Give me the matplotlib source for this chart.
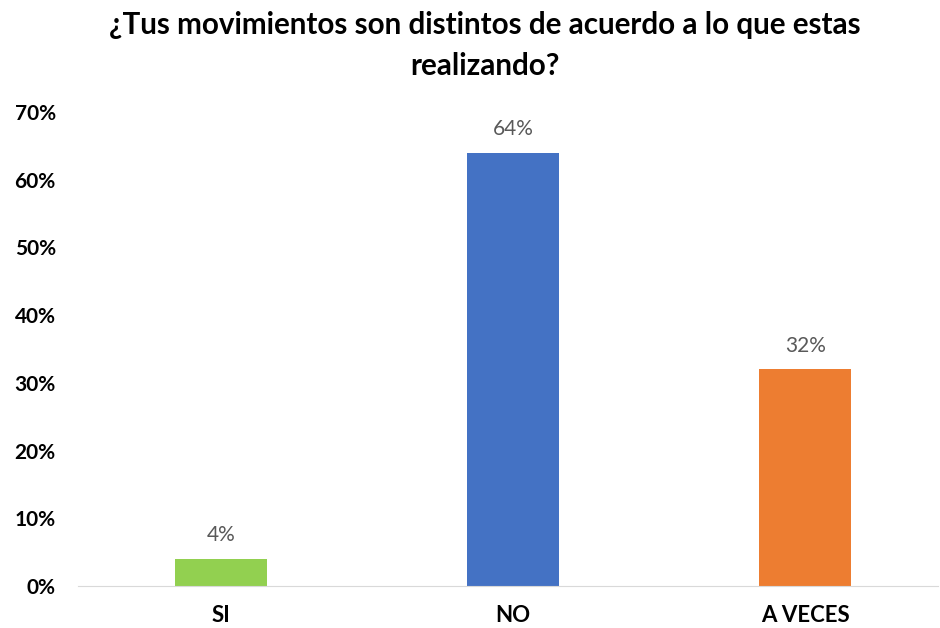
import matplotlib.pyplot as plt
from matplotlib.ticker import PercentFormatter

categorias = ["SI", "NO", "A VECES"]
valores = [0.04, 0.64, 0.32]
colores = ["#92D050", "#4472C4", "#ED7D31"]
titulo = "¿Tus movimientos son distintos de acuerdo a lo que estas\nrealizando?"

plt.rcParams["font.family"] = ["Lato", "DejaVu Sans"]

fig = plt.figure(figsize=(9.4, 6.28), dpi=100)
ax = fig.add_axes([78 / 940, 42 / 628, 860 / 940, 474 / 628])

barras = ax.bar(categorias, valores, width=0.315, color=colores)
for b, v in zip(barras, valores):
    ax.text(b.get_x() + b.get_width() / 2, v + 0.02, "{:.0%}".format(v),
            ha="center", va="bottom", fontsize=15, color="#595959")

ax.set_xlim(-0.49, 2.455)
ax.set_ylim(0, 0.7)
ax.set_yticks([i / 10 for i in range(8)])
ax.yaxis.set_major_formatter(PercentFormatter(1.0, decimals=0))

for s in ["top", "right", "left"]:
    ax.spines[s].set_visible(False)
ax.spines["bottom"].set_color("#D9D9D9")
ax.tick_params(axis="y", length=0, labelsize=15, pad=16)
ax.tick_params(axis="x", length=0, labelsize=16, pad=14)
for lbl in ax.get_xticklabels() + ax.get_yticklabels():
    lbl.set_fontweight("bold")

fig.text(0.516, 0.982, titulo, ha="center", va="top", fontsize=21.3,
         fontweight="bold", linespacing=1.55)

fig.savefig("out.png", dpi=100)
